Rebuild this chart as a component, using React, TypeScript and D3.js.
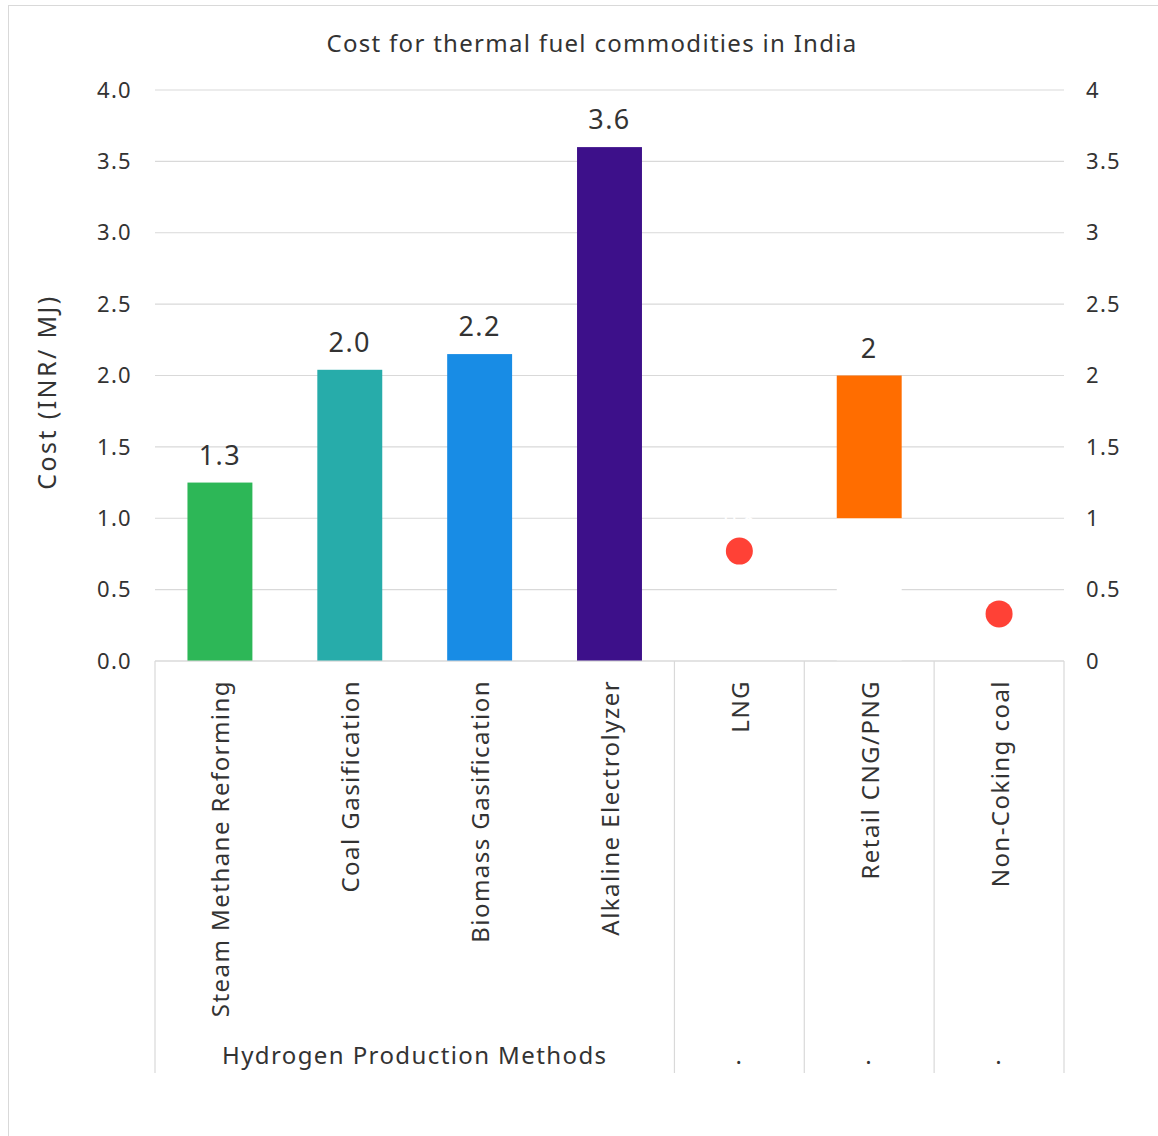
import React from "react";
import * as d3 from "d3";

const title = "Cost for thermal fuel commodities in India";
const yAxisTitle = "Cost (INR/ MJ)";
const categories = [
  "Steam Methane Reforming",
  "Coal Gasification",
  "Biomass Gasification",
  "Alkaline Electrolyzer",
  "LNG",
  "Retail CNG/PNG",
  "Non-Coking coal",
];
const groups = [
  { label: "Hydrogen Production Methods", span: 4 },
  { label: ".", span: 1 },
  { label: ".", span: 1 },
  { label: ".", span: 1 },
];
// Hydrogen production cost bars
const hydrogenValues = [1.25, 2.04, 2.15, 3.6];
const hydrogenLabels = ["1.3", "2.0", "2.2", "3.6"];
const hydrogenColors = ["#2DB757", "#27ACAA", "#188CE5", "#3D108A"];
// Retail CNG/PNG range: invisible base + visible band
const cngLow = 1;
const cngHigh = 2;
const cngLabel = "2";
// Point estimates
const pointCategories = ["LNG", "Non-Coking coal"];
const pointValues = [0.77, 0.33];
const lngHiddenLabel = "0.8";
const leftTicks = [0, 0.5, 1, 1.5, 2, 2.5, 3, 3.5, 4];

const W = 1158;
const H = 1136;
const plot = { left: 155, right: 1064, top: 90, bottom: 661 };
const FONT = "'Noto Sans', 'Open Sans', sans-serif";
const TEXT = "#333333";
const GRID = "#D9D9D9";

export default function App() {
  const n = categories.length;
  const x = d3
    .scaleBand<string>()
    .domain(categories)
    .range([plot.left, plot.right])
    .paddingInner(0.5)
    .paddingOuter(0.25);
  const catX = (c: string) => (x(c) as number) + x.bandwidth() / 2;
  const y = d3.scaleLinear().domain([0, 4]).range([plot.bottom, plot.top]);
  const fmtLeft = d3.format(".1f");
  const fmtRight = (v: number) => String(v);
  const slot = (plot.right - plot.left) / n;

  const sepBottom = 1073;
  // group boundaries plus every category boundary inside the single-category groups
  const separators: number[] = [plot.left];
  let acc = 0;
  groups.forEach((g) => {
    acc += g.span;
    separators.push(plot.left + acc * slot);
  });

  let gAcc = 0;
  const groupPos = groups.map((g) => {
    const start = plot.left + gAcc * slot;
    gAcc += g.span;
    const end = plot.left + gAcc * slot;
    return { label: g.label, cx: (start + end) / 2 };
  });

  return (
    <svg
      width={W}
      height={H}
      style={{ position: "absolute", left: 0, top: 0, background: "#fff" }}
      fontFamily={FONT}
    >
      <rect x={8.5} y={5.5} width={W + 10} height={H + 10} fill="#fff" stroke={GRID} />
      <text x={592} y={52} textAnchor="middle" fontSize={24} letterSpacing={1.3} fill={TEXT}>
        {title}
      </text>

      {/* gridlines */}
      {leftTicks.map((t) => (
        <line key={t} x1={plot.left} x2={plot.right} y1={y(t)} y2={y(t)} stroke={GRID} strokeWidth={1.2} />
      ))}

      {/* left axis labels */}
      {leftTicks.map((t) => (
        <text key={"l" + t} x={132} y={y(t)} dy="0.35em" textAnchor="end" fontSize={22} letterSpacing={1.3} fill={TEXT}>
          {fmtLeft(t)}
        </text>
      ))}
      {/* right axis labels */}
      {leftTicks.map((t) => (
        <text key={"r" + t} x={1086} y={y(t)} dy="0.35em" textAnchor="start" fontSize={22} letterSpacing={1.3} fill={TEXT}>
          {fmtRight(t)}
        </text>
      ))}

      <text
        transform={`translate(46,392) rotate(-90)`}
        textAnchor="middle"
        dominantBaseline="central"
        fontSize={25}
        letterSpacing={2.4}
        fill={TEXT}
      >
        {yAxisTitle}
      </text>

      {/* hydrogen bars */}
      {hydrogenValues.map((v, i) => (
        <g key={categories[i]}>
          <rect
            x={x(categories[i])}
            y={y(v)}
            width={x.bandwidth()}
            height={y(0) - y(v)}
            fill={hydrogenColors[i]}
          />
          <text x={catX(categories[i])} y={y(v) - 18} textAnchor="middle" fontSize={27} letterSpacing={1.4} fill={TEXT}>
            {hydrogenLabels[i]}
          </text>
        </g>
      ))}

      {/* CNG range bar */}
      <rect
        x={x("Retail CNG/PNG")}
        y={y(cngLow)}
        width={x.bandwidth()}
        height={y(0) - y(cngLow)}
        fill="#FFFFFF"
      />
      <rect
        x={x("Retail CNG/PNG")}
        y={y(cngHigh)}
        width={x.bandwidth()}
        height={y(cngLow) - y(cngHigh)}
        fill="#FF6D00"
      />
      <text x={catX("Retail CNG/PNG")} y={y(cngHigh) - 18} textAnchor="middle" fontSize={27} letterSpacing={1.4} fill={TEXT}>
        {cngLabel}
      </text>

      {/* point markers */}
      <text x={catX("LNG")} y={y(pointValues[0]) - 25} textAnchor="middle" fontSize={22} fill="#FFFFFF">
        {lngHiddenLabel}
      </text>
      {pointCategories.map((c, i) => (
        <circle key={c} cx={catX(c)} cy={y(pointValues[i])} r={13.5} fill="#FF4136" />
      ))}

      {/* category axis */}
      <line x1={plot.left} x2={plot.right} y1={plot.bottom} y2={plot.bottom} stroke={GRID} strokeWidth={1.2} />
      {separators.map((sx, i) => (
        <line key={"s" + i} x1={sx} x2={sx} y1={plot.bottom} y2={sepBottom} stroke={GRID} strokeWidth={1.2} />
      ))}
      {categories.map((c) => (
        <text
          key={"t" + c}
          transform={`translate(${catX(c)},${680}) rotate(-90)`}
          textAnchor="end"
          dominantBaseline="central"
          fontSize={24}
          letterSpacing={1.45}
          fill={TEXT}
        >
          {c}
        </text>
      ))}
      {groupPos.map((g, i) => (
        <text key={"g" + i} x={g.cx} y={1064} textAnchor="middle" fontSize={24} letterSpacing={1.4} fill={TEXT}>
          {g.label}
        </text>
      ))}
    </svg>
  );
}
